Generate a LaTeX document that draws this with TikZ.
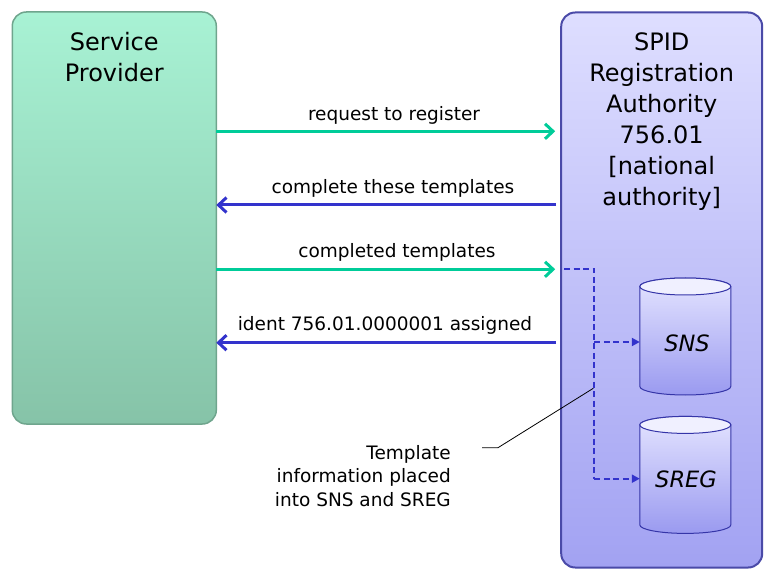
\documentclass[tikz,border=0pt]{standalone}
\usepackage{fontspec}
\setmainfont{DejaVu Sans}
\usetikzlibrary{arrows.meta}

\definecolor{spTop}{HTML}{A8F2D4}
\definecolor{spBot}{HTML}{86C3A8}
\definecolor{spEdge}{HTML}{6FA58D}
\definecolor{raTop}{HTML}{DEDEFF}
\definecolor{raBot}{HTML}{A2A2F2}
\definecolor{raEdge}{HTML}{4A4AA8}
\definecolor{dbTop}{HTML}{E4E4FF}
\definecolor{dbBot}{HTML}{9A9AF0}
\definecolor{dbCap}{HTML}{F0F0FF}
\definecolor{dbEdge}{HTML}{3535A8}
\definecolor{msgGreen}{HTML}{00CC99}
\definecolor{msgBlue}{HTML}{3333CC}

\tikzset{
  party/.style={rounded corners=14pt, inner sep=0pt, outer sep=0pt},
  spbox/.style={party, top color=spTop, bottom color=spBot, draw=spEdge, line width=1.5pt},
  rabox/.style={party, top color=raTop, bottom color=raBot, draw=raEdge, line width=2pt},
  title/.style={font=\fontsize{24}{31}\selectfont, align=center, inner sep=0pt},
  msg/.style={font=\fontsize{18.5}{22}\selectfont, inner sep=0pt, anchor=base},
  greenmsg/.style={draw=msgGreen, line width=3pt,
    -{Straight Barb[length=8pt, width=15pt, line width=3pt]}},
  bluemsg/.style={draw=msgBlue, line width=3pt,
    -{Straight Barb[length=8pt, width=15pt, line width=3pt]}},
  storebox/.style={rectangle, minimum width=91pt, minimum height=117pt,
    inner sep=0pt, outer sep=0pt},
  storelabel/.style={font=\fontsize{22.5}{27}\selectfont\itshape, inner sep=0pt},
  flow/.style={draw=msgBlue, line width=2pt, dash pattern=on 6pt off 3.5pt},
  flowarrow/.style={flow, -{Triangle[length=8pt, width=8pt]}},
  note/.style={font=\fontsize{18.5}{23.5}\selectfont, align=right, inner sep=0pt}
}

% cylinder drawn inside the box of a named node
\newcommand{\storecylinder}[1]{%
  \shade[top color=dbTop, bottom color=dbBot, draw=dbEdge, line width=1pt]
    ([yshift=-8.5pt]#1.north west) -- ([yshift=8.5pt]#1.south west)
    arc[start angle=180, end angle=360, x radius=45.5pt, y radius=8.5pt]
    -- ([yshift=-8.5pt]#1.north east)
    arc[start angle=0, end angle=180, x radius=45.5pt, y radius=8.5pt] -- cycle;
  \filldraw[fill=dbCap, draw=dbEdge, line width=1pt]
    ([yshift=-8.5pt]#1.north) ellipse[x radius=45.5pt, y radius=8.5pt];
}

\begin{document}
\begin{tikzpicture}[x=1pt, y=-1pt]
\useasboundingbox (0,0) rectangle (766,569);

% the two parties
\node[spbox, minimum width=204pt, minimum height=412pt] (sp) at (114.3,218) {};
\node[rabox, minimum width=201pt, minimum height=555pt] (ra) at (661.7,290) {};

\node[title, anchor=north] (sptitle) at (114.3,32) {Service\\Provider};
\node[title, anchor=north] (ratitle) at (661.7,32)
  {SPID\\Registration\\Authority\\756.01\\{[national}\\authority]};

% message exchange
\coordinate (m1) at (0,131.3);
\coordinate (m2) at (0,205);
\coordinate (m3) at (0,269.3);
\coordinate (m4) at (0,342.7);

\draw[greenmsg, shorten >=6pt] (sp.east |- m1) -- (ra.west |- m1);
\draw[bluemsg, shorten <=5pt] (ra.west |- m2) -- (sp.east |- m2);
\draw[greenmsg, shorten >=6pt] (sp.east |- m3) -- (ra.west |- m3);
\draw[bluemsg, shorten <=5pt] (ra.west |- m4) -- (sp.east |- m4);

\node[msg] (l1) at (394,120.7) {request to register};
\node[msg] (l2) at (393,194) {complete these templates};
\node[msg] (l3) at (397,257.7) {completed templates};
\node[msg] (l4) at (385,330.7) {ident 756.01.0000001 assigned};

% registries
\node[storebox] (sns) at (685.3,336.5) {};
\node[storebox] (sreg) at (685.3,474.9) {};
\storecylinder{sns}
\storecylinder{sreg}
\node[storelabel] (snslabel) at (687,343) {SNS};
\node[storelabel] (sreglabel) at (686,479) {SREG};

% internal distribution of the templates
\coordinate (fstart) at (564,269.3);
\coordinate (fcorner) at (594.3,269.3);
\coordinate (fsns) at (594.3,342);
\coordinate (fsreg) at (594.3,478.7);
\draw[flow] (fstart) -- (fcorner) -- (fsreg);
\draw[flowarrow] (fsreg) -- (sreg.west |- fsreg);
\draw[flowarrow] (fsns) -- (sns.west |- fsns);

% annotation
\node[note, anchor=north east] (info) at (451,445)
  {Template\\information placed\\into SNS and SREG};
\coordinate (lead) at (482,447.7);
\coordinate (elbow) at (498,447.7);
\coordinate (target) at (593.3,388.3);
\draw[black, line width=0.8pt] (lead) -- (elbow) -- (target);
\end{tikzpicture}
\end{document}
